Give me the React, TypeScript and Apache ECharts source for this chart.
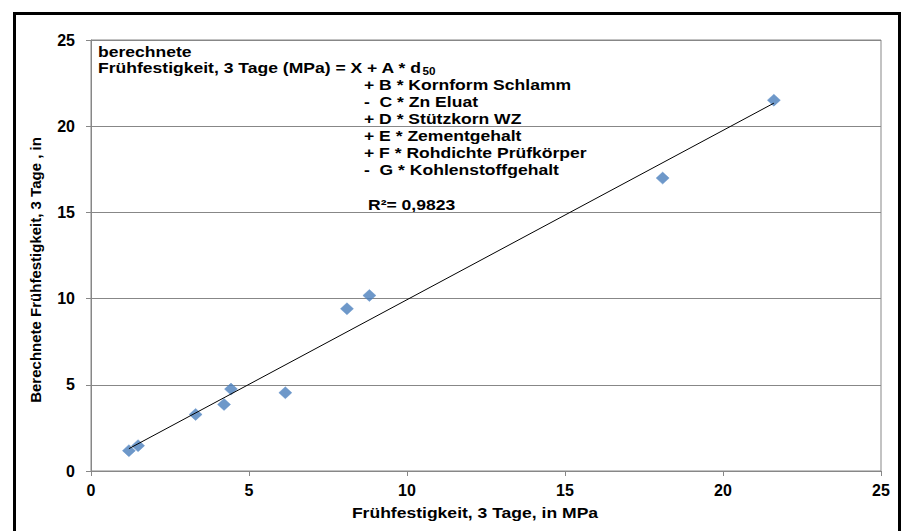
import React, { useEffect, useRef } from "react";
import * as echarts from "echarts";

const measured: number[] = [1.2, 1.49, 3.31, 4.21, 4.43, 6.15, 8.1, 8.81, 18.09, 21.61];
const calculated: number[] = [1.18, 1.47, 3.28, 3.86, 4.75, 4.54, 9.41, 10.18, 16.99, 21.51];
const axisTicks: number[] = [0, 5, 10, 15, 20, 25];
const xTitle = "Frühfestigkeit, 3 Tage, in MPa";
const yTitle = "Berechnete Frühfestigkeit, 3 Tage , in";
const headLines: string[] = ["berechnete", "Frühfestigkeit, 3 Tage (MPa) = X + A * d"];
const termLines: string[] = [
  "+ B * Kornform Schlamm",
  "-  C * Zn Eluat",
  "+ D * Stützkorn WZ",
  "+ E * Zementgehalt",
  "+ F * Rohdichte Prüfkörper",
  "-  G * Kohlenstoffgehalt",
];
const rSquared = "R²= 0,9823";

const FONT = '"Liberation Sans", Arial, Helvetica, sans-serif';
const GRAY = "#878787";
const SX = 1.17;

function regression(xs: number[], ys: number[]) {
  const n = xs.length;
  const mx = xs.reduce((a, b) => a + b, 0) / n;
  const my = ys.reduce((a, b) => a + b, 0) / n;
  let sxy = 0;
  let sxx = 0;
  for (let i = 0; i < n; i++) {
    sxy += (xs[i] - mx) * (ys[i] - my);
    sxx += (xs[i] - mx) * (xs[i] - mx);
  }
  const b = sxy / sxx;
  const a = my - b * mx;
  const x0 = Math.min(...xs);
  const x1 = Math.max(...xs);
  return [
    [x0, a + b * x0],
    [x1, a + b * x1],
  ];
}

export default function App() {
  const ref = useRef<HTMLDivElement>(null);
  useEffect(() => {
    if (!ref.current) return;
    const chart = echarts.init(ref.current, null, { renderer: "svg" });
    const points = measured.map((x, i) => [x, calculated[i]]);
    const trend = regression(measured, calculated);

    const textStyle = (text: string) => ({
      text,
      fontFamily: FONT,
      fontWeight: "bold",
      fontSize: 15,
      fill: "#000",
      align: "left",
      verticalAlign: "middle",
    });

    const graphics: any[] = [
      {
        type: "rect",
        silent: true,
        shape: { x: 14.5, y: 13.5, width: 885, height: 600 },
        style: { fill: "none", stroke: "#000", lineWidth: 3 },
        z: 100,
      },
      {
        type: "text",
        x: 98,
        y: 51,
        scaleX: SX,
        style: textStyle(headLines[0]),
      },
      {
        type: "text",
        x: 98,
        y: 67,
        scaleX: SX,
        style: {
          text: "{m|" + headLines[1] + "}{s|50}",
          fontFamily: FONT,
          fontWeight: "bold",
          fontSize: 15,
          fill: "#000",
          align: "left",
          verticalAlign: "middle",
          rich: {
            m: { fontFamily: FONT, fontWeight: "bold", fontSize: 15, lineHeight: 18, verticalAlign: "middle" },
            s: { fontFamily: FONT, fontWeight: "bold", fontSize: 10, lineHeight: 9, verticalAlign: "bottom" },
          },
        },
      },
      ...termLines.map((t, i) => ({
        type: "text",
        x: 364,
        y: 84 + i * 17.1,
        scaleX: SX,
        style: textStyle(t),
      })),
      {
        type: "text",
        x: 368,
        y: 204,
        scaleX: SX,
        style: textStyle(rSquared),
      },
      {
        type: "text",
        x: 475,
        y: 512,
        scaleX: SX,
        style: { ...textStyle(xTitle), align: "center" },
      },
      {
        type: "text",
        x: 35,
        y: 270,
        rotation: Math.PI / 2,
        style: { ...textStyle(yTitle), align: "center" },
      },
    ];

    chart.setOption({
      animation: false,
      backgroundColor: "#fff",
      grid: {
        left: 91,
        right: 23,
        top: 40,
        bottom: 60,
        show: true,
        borderColor: GRAY,
        borderWidth: 1,
      },
      xAxis: {
        type: "value",
        min: axisTicks[0],
        max: axisTicks[axisTicks.length - 1],
        interval: 5,
        axisLine: { show: true, onZero: false, lineStyle: { color: GRAY, width: 1 } },
        axisTick: { show: true, length: 5, lineStyle: { color: GRAY } },
        splitLine: { show: false },
        axisLabel: {
          margin: 11,
          color: "#000",
          fontFamily: FONT,
          fontWeight: "bold",
          fontSize: 16,
        },
      },
      yAxis: {
        type: "value",
        min: axisTicks[0],
        max: axisTicks[axisTicks.length - 1],
        interval: 5,
        axisLine: { show: true, onZero: false, lineStyle: { color: GRAY, width: 1 } },
        axisTick: { show: true, length: 5, lineStyle: { color: GRAY } },
        splitLine: { show: true, lineStyle: { color: GRAY, width: 1 } },
        axisLabel: {
          margin: 16,
          color: "#000",
          fontFamily: FONT,
          fontWeight: "bold",
          fontSize: 16,
        },
      },
      series: [
        {
          type: "line",
          data: trend,
          symbol: "none",
          lineStyle: { color: "#000", width: 1 },
          silent: true,
          z: 3,
        },
        {
          type: "scatter",
          data: points,
          symbol: "diamond",
          symbolSize: [13, 12],
          itemStyle: { color: "#4a7ebb", borderColor: "#5b8bc7", borderWidth: 0.5 },
          z: 2,
        },
      ],
      graphic: graphics,
    });
    return () => chart.dispose();
  }, []);
  return (
    <div
      ref={ref}
      style={{ position: "fixed", left: 0, top: 0, width: 904, height: 531, background: "#fff" }}
    />
  );
}
